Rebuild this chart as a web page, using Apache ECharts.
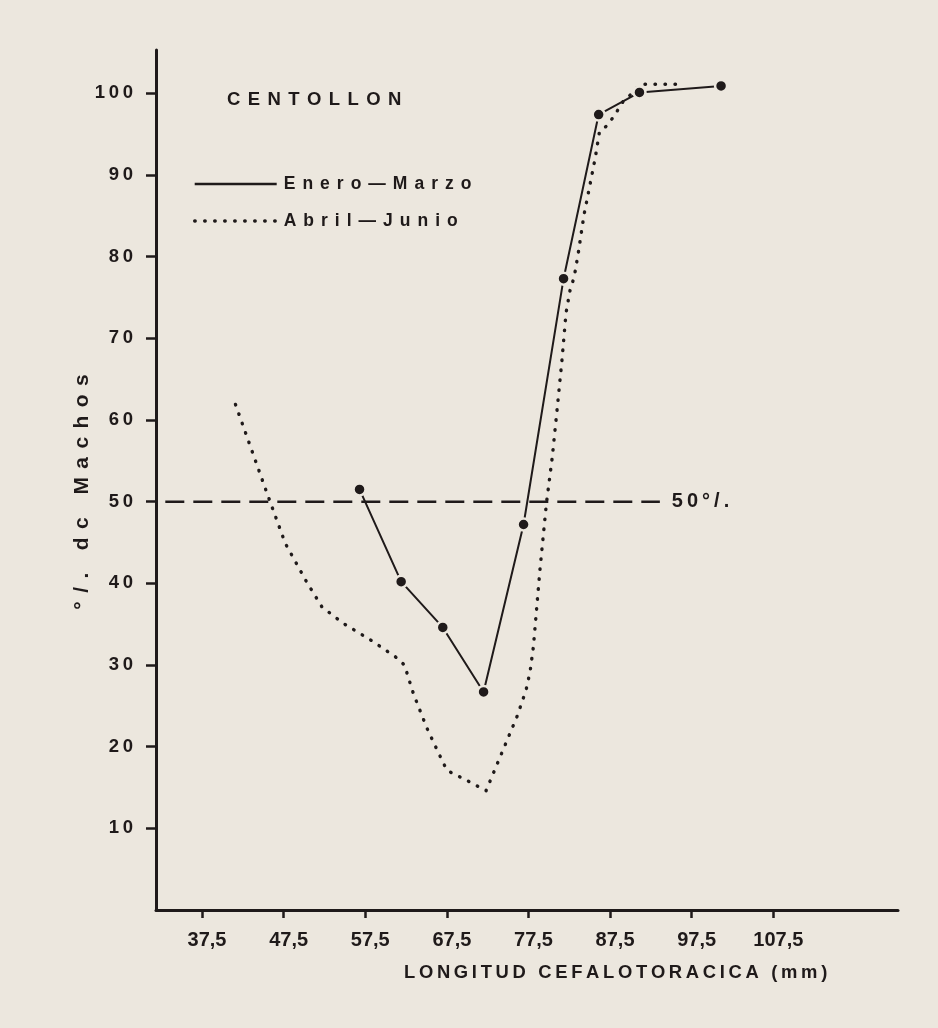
<!DOCTYPE html>
<html>
<head>
<meta charset="utf-8">
<script src="https://cdn.jsdelivr.net/npm/echarts@6/dist/echarts.min.js"></script>
<style>
html,body{margin:0;padding:0;background:#ece7de;}
#chart{width:938px;height:1028px;}
</style>
</head>
<body>
<div id="chart"></div>
<script>
// ---- data ----
const xTicks = [37.5, 47.5, 57.5, 67.5, 77.5, 87.5, 97.5, 107.5];
const yTicks = [10, 20, 30, 40, 50, 60, 70, 80, 90, 100];

const eneroMarzoX = [56.8, 61.9, 67.0, 72.0, 76.9, 81.8, 86.1, 91.1, 101.1];
const eneroMarzoY = [51.5, 40.2, 34.6, 26.7, 47.2, 77.3, 97.4, 100.1, 100.9];

const abrilJunioX = [41.6, 45.4, 47.7, 50.3, 52.2, 54.8, 58.1, 61.2, 62.3, 63.4, 65.0, 66.3, 67.5, 69.5, 71.0, 72.3, 73.8, 76.1, 77.2, 77.7, 78.1, 78.9, 79.7, 80.4, 81.0, 81.6, 82.1, 82.6, 83.1, 83.6, 84.3, 85.0, 85.7, 86.2, 87.2, 88.1, 89.1, 90.2, 91.2, 96.3];
const abrilJunioY = [61.9, 51.2, 44.9, 40.2, 37.1, 35.1, 33.1, 31.0, 30.0, 26.5, 22.4, 19.6, 17.1, 16.1, 15.3, 14.6, 18.2, 23.7, 26.9, 29.2, 32.2, 41.6, 49.8, 55.3, 61.2, 67.3, 73.1, 75.9, 77.5, 80.4, 85.1, 88.6, 92.2, 95.3, 96.1, 97.4, 99.0, 100.0, 101.1, 101.1];

const refLevel = 50;
const refFromX = 33.0;
const refToX = 93.6;

const seriesNames = ['Enero\u2014Marzo', 'Abril\u2014Junio'];
const chartTitle = 'CENTOLLON';
const xTitle = 'LONGITUD CEFALOTORACICA (mm)';
const yTitle = '\u00b0/. dc Machos';
const refLabel = '50\u00b0/.';

// ---- styling ----
const INK = '#1f1a1a';
const BG = '#ece7de';
const FONT = '"Liberation Sans", "DejaVu Sans", sans-serif';
const spaced = (s, sep) => s.split('').join(sep);

const zip = (xs, ys) => xs.map((x, i) => [x, ys[i]]);

const chart = echarts.init(document.getElementById('chart'), null, {renderer: 'canvas'});
chart.setOption({
  backgroundColor: BG,
  animation: false,
  title: {
    text: spaced(chartTitle, '\u2009\u2009'),
    left: 222, top: 85,
    textStyle: {fontFamily: FONT, fontWeight: 'bold', fontSize: 18.5, color: INK}
  },
  legend: {
    orient: 'vertical',
    left: 188, top: 170,
    itemWidth: 82, itemHeight: 14, itemGap: 19,
    data: [
      {name: seriesNames[0], itemStyle: {opacity: 0}, lineStyle: {width: 2.6}},
      {name: seriesNames[1], itemStyle: {opacity: 0}, lineStyle: {width: 3.4}}
    ],
    formatter: n => spaced(n, '\u2009\u2009'),
    textStyle: {fontFamily: FONT, fontWeight: 'bold', fontSize: 17.5, color: INK, padding: [0, 0, 4, 2]}
  },
  grid: {left: 156, right: 40, top: 50, bottom: 118, containLabel: false},
  xAxis: {
    type: 'value', min: 31.86, max: 122.78,
    splitLine: {show: false},
    axisLine: {show: true, lineStyle: {color: INK, width: 3}},
    axisTick: {show: true, customValues: xTicks, length: 8, lineStyle: {color: INK, width: 2.5}},
    axisLabel: {
      customValues: xTicks, margin: 20,
      formatter: v => String(v).replace('.', ','),
      fontFamily: FONT, fontWeight: 'bold', fontSize: 20, color: INK,
      padding: [0, 0, 0, 10]
    }
  },
  yAxis: {
    type: 'value', min: 0, max: 105.3,
    splitLine: {show: false},
    axisLine: {show: true, lineStyle: {color: INK, width: 3}},
    axisTick: {show: true, customValues: yTicks, length: 10, lineStyle: {color: INK, width: 2.5}},
    axisLabel: {
      customValues: yTicks, margin: 23,
      formatter: v => spaced(String(v), '\u2009'),
      fontFamily: FONT, fontWeight: 'bold', fontSize: 18.5, color: INK
    }
  },
  graphic: [
    {type: 'text', left: 404, top: 964,
     style: {text: spaced(xTitle, '\u2009'), fontFamily: FONT, fontWeight: 'bold', fontSize: 18.4, fill: INK}},
    {type: 'text', x: 82, y: 492, rotation: Math.PI / 2,
     style: {text: spaced(yTitle, '\u2009\u2009'), fontFamily: FONT, fontWeight: 'bold', fontSize: 21, fill: INK, align: 'center', verticalAlign: 'middle'}}
  ],
  series: [
    {
      name: 'ref50', type: 'line',
      data: [[refFromX, refLevel], [refToX, refLevel]],
      symbol: 'none', silent: true, z: 1,
      lineStyle: {color: INK, width: 2.5, type: [19, 9]},
      endLabel: {show: true, formatter: spaced(refLabel, '\u2009'), distance: 12,
        fontFamily: FONT, fontWeight: 'bold', fontSize: 20, color: INK}
    },
    {
      name: seriesNames[1], type: 'line',
      data: zip(abrilJunioX, abrilJunioY),
      symbol: 'none', z: 2,
      lineStyle: {color: INK, width: 3.4, type: [0.5, 9.5], cap: 'round'},
      itemStyle: {color: INK}
    },
    {
      name: seriesNames[0], type: 'line',
      data: zip(eneroMarzoX, eneroMarzoY),
      symbol: 'circle', symbolSize: 12, z: 3,
      lineStyle: {color: INK, width: 2},
      itemStyle: {color: INK, borderColor: BG, borderWidth: 2.5}
    }
  ]
});
</script>
</body>
</html>
